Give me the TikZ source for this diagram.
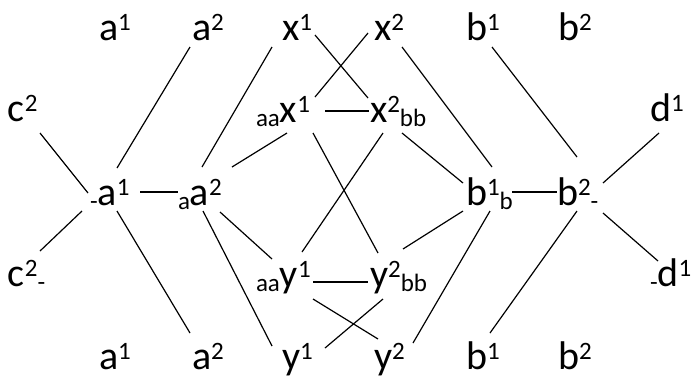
\documentclass[tikz,border=0pt]{standalone}
\usepackage{fontspec}
\setmainfont{Carlito}
\newcommand{\mysup}[1]{\raisebox{10pt}{\fontsize{25}{28}\selectfont #1}}
\newcommand{\mysub}[1]{\raisebox{-4pt}{\fontsize{25}{28}\selectfont #1}}
\begin{document}
\begin{tikzpicture}[x=1pt,y=-1pt,
  lbl/.style={anchor=base west,inner sep=0pt,outer sep=0pt,font=\fontsize{40}{44}\selectfont},
  edge/.style={line width=1.2pt,black}]
\fill[white] (0,0) rectangle (693,376);
\useasboundingbox (0,0) rectangle (693,376);
% top row
\node[lbl] (a1t) at (99,40) {a\mysup{1}};
\node[lbl] (a2t) at (192,40) {a\mysup{2}};
\node[lbl] (x1t) at (282,40) {x\mysup{1}};
\node[lbl] (x2t) at (374,40) {x\mysup{2}};
\node[lbl] (b1t) at (466,40) {b\mysup{1}};
\node[lbl] (b2t) at (558,40) {b\mysup{2}};
% row 2
\node[lbl] (c2t) at (8,121) {c\mysup{2}};
\node[lbl] (x1aa) at (256,122) {\mysub{aa}x\mysup{1}};
\node[lbl] (x2bb) at (370,122) {x\mysup{2}\mysub{bb}};
\node[lbl] (d1t) at (650,121) {d\mysup{1}};
% row 3
\node[lbl] (a1m) at (90,205) {\mysub{-}a\mysup{1}};
\node[lbl] (a2m) at (178,205) {\mysub{a}a\mysup{2}};
\node[lbl] (b1m) at (466,205) {b\mysup{1}\mysub{b}};
\node[lbl] (b2m) at (557,205) {b\mysup{2}\mysub{-}};
% row 4
\node[lbl] (c2b) at (8,286) {c\mysup{2}\mysub{-}};
\node[lbl] (y1aa) at (256,287) {\mysub{aa}y\mysup{1}};
\node[lbl] (y2bb) at (370,287) {y\mysup{2}\mysub{bb}};
\node[lbl] (d1b) at (650,286) {\mysub{-}d\mysup{1}};
% bottom row
\node[lbl] (a1b) at (99,369) {a\mysup{1}};
\node[lbl] (a2b) at (192,369) {a\mysup{2}};
\node[lbl] (y1b) at (282,369) {y\mysup{1}};
\node[lbl] (y2b) at (374,369) {y\mysup{2}};
\node[lbl] (b1b) at (466,369) {b\mysup{1}};
\node[lbl] (b2b) at (558,369) {b\mysup{2}};
% connectors
\begin{scope}[edge]
\draw ([shift={(-2,7)}]a2t.base west) -- ([shift={(27,-37)}]a1m.base west);
\draw ([shift={(32,12)}]c2t.base west) -- ([shift={(-2,-12)}]a1m.base west);
\draw ([shift={(-10,7)}]x1t.base west) -- ([shift={(24,-38)}]a2m.base west);
\draw ([shift={(54,-38)}]a2m.base west) -- ([shift={(31,11)}]x1aa.base west);
\draw ([shift={(33,-5)}]x1t.base west) -- ([shift={(-2,-24)}]x2bb.base west);
\draw ([shift={(-6,-7)}]x2t.base west) -- ([shift={(59,-25)}]x1aa.base west);
\draw ([shift={(69,-11)}]x1aa.base west) -- ([shift={(-1,-11)}]x2bb.base west);
\draw ([shift={(28,7)}]x2t.base west) -- ([shift={(26,-38)}]b1m.base west);
\draw ([shift={(57,11)}]x1aa.base west) -- ([shift={(8,-34)}]y2bb.base west);
\draw ([shift={(13,11)}]x2bb.base west) -- ([shift={(46,-35)}]y1aa.base west);
\draw ([shift={(32,11)}]x2bb.base west) -- ([shift={(-3,-22)}]b1m.base west);
\draw ([shift={(26,7)}]b1t.base west) -- ([shift={(20,-48)}]b2m.base west);
\draw ([shift={(9,12)}]d1t.base west) -- ([shift={(46,-22)}]b2m.base west);
\draw ([shift={(50,-13)}]a1m.base west) -- ([shift={(0,-13)}]a2m.base west);
\draw ([shift={(46,-13)}]b1m.base west) -- ([shift={(0,-13)}]b2m.base west);
\draw ([shift={(-8,6)}]a1m.base west) -- ([shift={(32,-35)}]c2b.base west);
\draw ([shift={(27,6)}]a1m.base west) -- ([shift={(-2,-36)}]a2b.base west);
\draw ([shift={(42,7)}]a2m.base west) -- ([shift={(16,-28)}]y1aa.base west);
\draw ([shift={(25,6)}]a2m.base west) -- ([shift={(-10,-23)}]y1b.base west);
\draw ([shift={(-3,6)}]b1m.base west) -- ([shift={(33,-38)}]y2bb.base west);
\draw ([shift={(57,-5)}]y1aa.base west) -- ([shift={(-2,-5)}]y2bb.base west);
\draw ([shift={(57,12)}]y1aa.base west) -- ([shift={(4,-30)}]y2b.base west);
\draw ([shift={(13,12)}]y2bb.base west) -- ([shift={(43,-21)}]y1b.base west);
\draw ([shift={(24,6)}]b1m.base west) -- ([shift={(39,-26)}]y2b.base west);
\draw ([shift={(20,6)}]b2m.base west) -- ([shift={(24,-36)}]b1b.base west);
\draw ([shift={(46,8)}]b2m.base west) -- ([shift={(8,-25)}]d1b.base west);
\end{scope}
\end{tikzpicture}
\end{document}
